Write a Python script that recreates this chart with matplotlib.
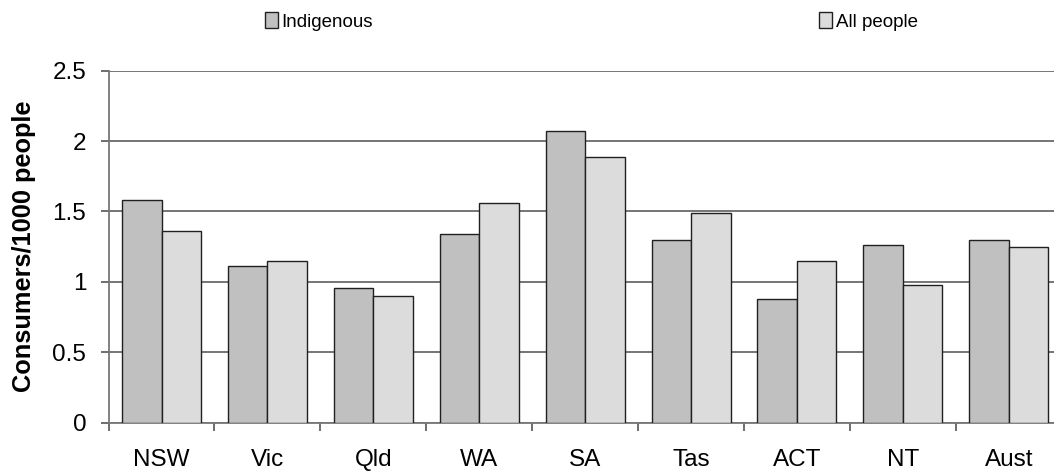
import numpy as np
import matplotlib.pyplot as plt

plt.rcParams['font.family'] = ['Liberation Sans', 'DejaVu Sans']

states = ['NSW', 'Vic', 'Qld', 'WA', 'SA', 'Tas', 'ACT', 'NT', 'Aust']
indigenous = [1.58, 1.11, 0.96, 1.34, 2.07, 1.30, 0.88, 1.26, 1.30]
all_people = [1.36, 1.15, 0.90, 1.56, 1.89, 1.49, 1.15, 0.98, 1.25]

fig = plt.figure(figsize=(10.54, 4.72), dpi=100)
ax = fig.add_axes([0.103, 0.1045, 0.9043, 0.7458])

x = np.arange(len(states))
w = 0.373
ax.bar(x - w/2, indigenous, w, color='#c0c0c0', edgecolor='#202020', linewidth=1.0,
       label='Indigenous', zorder=3)
ax.bar(x + w/2, all_people, w, color='#dcdcdc', edgecolor='#202020', linewidth=1.0,
       label='All people', zorder=3)

ax.set_xlim(-0.5, len(states) - 0.5)
ax.set_ylim(0, 2.5)
ax.set_yticks([0, 0.5, 1, 1.5, 2, 2.5])
ax.set_yticklabels(['0', '0.5', '1', '1.5', '2', '2.5'])
ax.yaxis.grid(True, color='#6a6a6a', linewidth=1.3, zorder=0)
ax.set_axisbelow(True)

# category labels at centres, tick marks between categories
ax.set_xticks(x)
ax.set_xticklabels(states)
ax.set_xticks(np.arange(-0.5, len(states)), minor=True)
ax.tick_params(axis='x', which='major', length=0, pad=19, labelsize=17.5)
ax.tick_params(axis='x', which='minor', length=6, width=1.2, color='#555555')
ax.tick_params(axis='y', length=6, width=1.2, color='#555555', labelsize=17.5, pad=10)

for side in ['top', 'right']:
    ax.spines[side].set_visible(False)
for side in ['left', 'bottom']:
    ax.spines[side].set_color('#777777')
    ax.spines[side].set_linewidth(1.3)

ax.set_ylabel('Consumers/1000 people', fontsize=18.3, fontweight='bold', labelpad=12)

fig.legend(loc='upper left', bbox_to_anchor=(0.235, 1.01), ncol=2, frameon=False,
           fontsize=13.5, handlelength=0.7, handleheight=0.95, handletextpad=0.2,
           columnspacing=23.8)

fig.savefig('out.png', dpi=100)
